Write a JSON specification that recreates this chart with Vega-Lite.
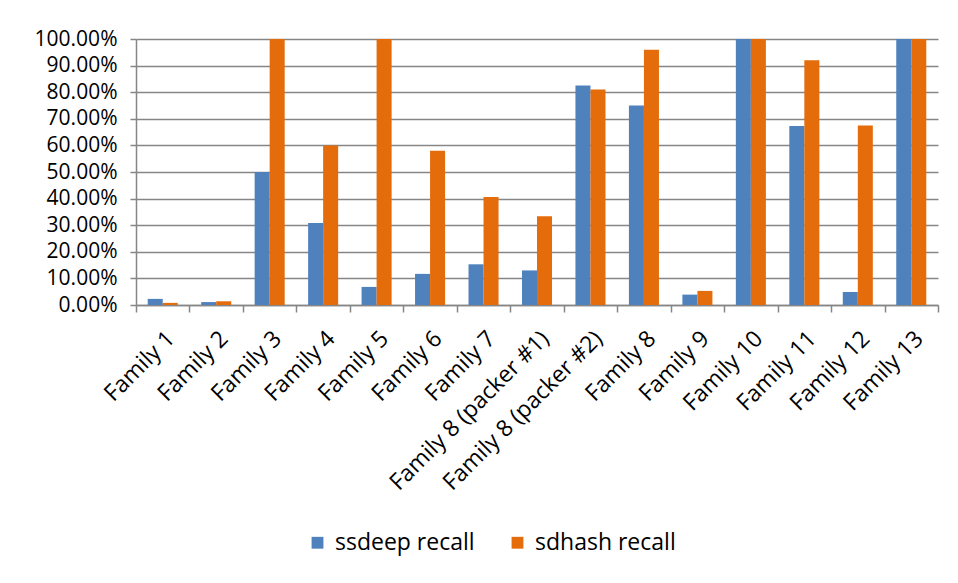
{
  "$schema": "https://vega.github.io/schema/vega-lite/v6.json",
  "autosize": {"type": "none"},
  "width": 802,
  "height": 266,
  "padding": {"left": 136, "top": 39, "right": 20, "bottom": 278},
  "background": "white",
  "config": {
    "font": "Open Sans",
    "view": {"stroke": null}
  },
  "data": {
    "values": [
      {"family": "Family 1", "series": "ssdeep recall", "recall": 0.023},
      {"family": "Family 1", "series": "sdhash recall", "recall": 0.008},
      {"family": "Family 2", "series": "ssdeep recall", "recall": 0.011},
      {"family": "Family 2", "series": "sdhash recall", "recall": 0.014},
      {"family": "Family 3", "series": "ssdeep recall", "recall": 0.50},
      {"family": "Family 3", "series": "sdhash recall", "recall": 1.0},
      {"family": "Family 4", "series": "ssdeep recall", "recall": 0.308},
      {"family": "Family 4", "series": "sdhash recall", "recall": 0.60},
      {"family": "Family 5", "series": "ssdeep recall", "recall": 0.068},
      {"family": "Family 5", "series": "sdhash recall", "recall": 1.0},
      {"family": "Family 6", "series": "ssdeep recall", "recall": 0.117},
      {"family": "Family 6", "series": "sdhash recall", "recall": 0.58},
      {"family": "Family 7", "series": "ssdeep recall", "recall": 0.153},
      {"family": "Family 7", "series": "sdhash recall", "recall": 0.406},
      {"family": "Family 8 (packer #1)", "series": "ssdeep recall", "recall": 0.13},
      {"family": "Family 8 (packer #1)", "series": "sdhash recall", "recall": 0.334},
      {"family": "Family 8 (packer #2)", "series": "ssdeep recall", "recall": 0.825},
      {"family": "Family 8 (packer #2)", "series": "sdhash recall", "recall": 0.81},
      {"family": "Family 8", "series": "ssdeep recall", "recall": 0.75},
      {"family": "Family 8", "series": "sdhash recall", "recall": 0.96},
      {"family": "Family 9", "series": "ssdeep recall", "recall": 0.039},
      {"family": "Family 9", "series": "sdhash recall", "recall": 0.053},
      {"family": "Family 10", "series": "ssdeep recall", "recall": 1.0},
      {"family": "Family 10", "series": "sdhash recall", "recall": 1.0},
      {"family": "Family 11", "series": "ssdeep recall", "recall": 0.673},
      {"family": "Family 11", "series": "sdhash recall", "recall": 0.92},
      {"family": "Family 12", "series": "ssdeep recall", "recall": 0.049},
      {"family": "Family 12", "series": "sdhash recall", "recall": 0.675},
      {"family": "Family 13", "series": "ssdeep recall", "recall": 1.0},
      {"family": "Family 13", "series": "sdhash recall", "recall": 1.0}
    ]
  },
  "mark": {"type": "bar"},
  "encoding": {
    "x": {
      "field": "family",
      "type": "nominal",
      "sort": null,
      "scale": {"paddingInner": 0, "paddingOuter": 0},
      "axis": {
        "title": null,
        "labelAngle": -45,
        "labelAlign": "right",
        "labelBaseline": "top",
        "labelFontSize": 23,
        "labelColor": "#000000",
        "labelPadding": 15,
        "labelDx": -8,
        "labelOverlap": false,
        "labelBound": false,
        "labelLimit": 0,
        "tickBand": "extent",
        "tickSize": 7,
        "tickColor": "#868686",
        "tickWidth": 1.5,
        "domainColor": "#868686",
        "domainWidth": 1.5,
        "grid": false
      }
    },
    "xOffset": {
      "field": "series",
      "type": "nominal",
      "sort": ["ssdeep recall", "sdhash recall"],
      "scale": {"paddingInner": 0, "paddingOuter": 0.78}
    },
    "y": {
      "field": "recall",
      "type": "quantitative",
      "scale": {"domain": [0, 1], "nice": false},
      "axis": {
        "title": null,
        "values": [0, 0.1, 0.2, 0.3, 0.4, 0.5, 0.6, 0.7, 0.8, 0.9, 1.0],
        "format": ".2%",
        "labelFontSize": 21,
        "labelColor": "#000000",
        "labelPadding": 13,
        "tickSize": 6,
        "tickColor": "#868686",
        "tickWidth": 1.5,
        "domainColor": "#868686",
        "domainWidth": 1.5,
        "gridColor": "#868686",
        "gridWidth": 1.5
      }
    },
    "color": {
      "field": "series",
      "type": "nominal",
      "sort": ["ssdeep recall", "sdhash recall"],
      "scale": {"domain": ["ssdeep recall", "sdhash recall"], "range": ["#4F81BD", "#E46C0A"]},
      "legend": {
        "title": null,
        "orient": "none",
        "legendX": 170,
        "legendY": 492,
        "direction": "horizontal",
        "symbolType": "square",
        "symbolSize": 140,
        "symbolStrokeWidth": 0,
        "labelFontSize": 23,
        "labelColor": "#000000",
        "columnPadding": 31,
        "labelOffset": 6,
        "labelLimit": 0
      }
    }
  }
}
